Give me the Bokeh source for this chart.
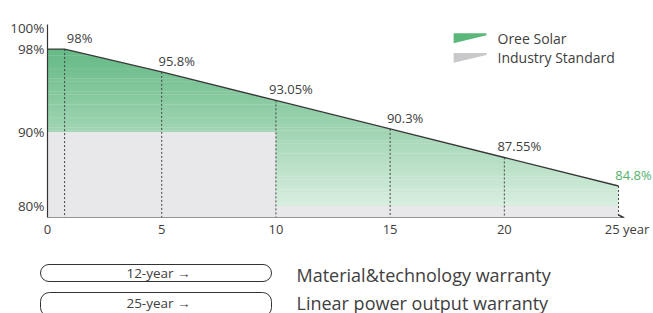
import numpy as np
from bokeh.plotting import figure
from bokeh.models import (Range1d, LabelSet, ColumnDataSource, Arrow,
                          VeeHead, FixedTicker, BoxAnnotation)
from bokeh.core.properties import value
from bokeh.embed import file_html
from bokeh.resources import INLINE

# ---------------- data ----------------
years = [0, 0.75, 5, 10, 15, 20, 25]
oree = [98, 98, 95.8, 93.05, 90.3, 87.55, 84.8]
point_years = [0.75, 5, 10, 15, 20, 25]
point_vals = [98, 95.8, 93.05, 90.3, 87.55, 84.8]
point_text = ["98%", "95.8%", "93.05%", "90.3%", "87.55%", "84.8%"]
industry_left = [0, 10]
industry_right = [10, 25]
industry = [90, 80]
x_ticks = [0, 5, 10, 15, 20, 25]
x_tick_labels = ["0", "5", "10", "15", "20", "25 year"]
y_ticks = [80, 90, 98, 100]
y_tick_labels = ["80%", "90%", "98%", "100%"]
legend_names = ["Oree Solar", "Industry Standard"]
warranty_terms = ["12-year \u2192", "25-year \u2192"]
warranty_names = ["Material&technology warranty", "Linear power output warranty"]

FONT = "Open Sans"
TXT = "#404040"
GREEN_TXT = "#55b06e"
GRAY = "#e8e8ea"
AX = "#333333"


def disp(v):
    # the original chart compresses the region below the last Oree value
    return v if v >= 84.8 else 84.8 - (84.8 - v) * 0.4


Y0, Y1 = 81.76, 100.37
X1 = 26.53

p = figure(width=653, height=240, x_range=Range1d(0, X1), y_range=Range1d(Y0, Y1),
           output_backend="svg", toolbar_location=None,
           min_border_left=47, min_border_right=0, min_border_top=24, min_border_bottom=20)
p.grid.visible = False
p.outline_line_color = None

# gradient green fill: horizontal stripes, then mask above the line
n = 48
lo, hi = disp(80), 98.0
edges = np.linspace(lo, hi, n + 1)
c_top = np.array([0x64, 0xb9, 0x84])
c_bot = np.array([0xd8, 0xee, 0xdf])
cols = []
for i in range(n):
    t = (i + 0.5) / n
    c = c_bot + (c_top - c_bot) * t
    cols.append("#%02x%02x%02x" % tuple(int(round(v)) for v in c))
tops = np.minimum(edges[1:] + 0.03, hi)
p.quad(left=0, right=25, bottom=edges[:-1], top=tops, fill_color=cols, line_color=None)
mx = years + [25.6, 25.6, 0]
my = oree + [oree[-1], Y1, Y1]
p.patch(x=mx, y=my, fill_color="white", line_color=None)

# industry standard (gray)
p.quad(left=industry_left, right=industry_right, bottom=Y0,
       top=[disp(v) for v in industry], fill_color=GRAY, line_color=None)

# dashed verticals
p.segment(x0=point_years, y0=point_vals, x1=point_years, y1=[Y0] * len(point_years),
          line_color="#444444", line_dash="2 2", line_width=1)

# oree line
p.line(years, oree, line_color="#3a3a3a", line_width=1.4)

# x axis (line drawn as arrow so it stops at 25 years)
nb = "\u00a0" * 5
p.xaxis.ticker = FixedTicker(ticks=x_ticks)
p.xaxis.major_label_overrides = {t: (nb + l if t == 25 else l) for t, l in zip(x_ticks, x_tick_labels)}
p.xaxis.axis_line_color = None
p.xaxis.major_tick_line_color = None
p.xaxis.minor_tick_line_color = None
p.xaxis.major_tick_out = 0
p.xaxis.major_tick_in = 0
p.xaxis.minor_tick_out = 0
p.xaxis.major_label_standoff = 2
p.xaxis.major_label_text_font = FONT
p.xaxis.major_label_text_font_size = "13px"
p.xaxis.major_label_text_color = TXT
p.add_layout(Arrow(end=VeeHead(size=6, line_color=AX, fill_color=AX, line_width=1),
                   x_start=0, y_start=Y0, x_end=25.25, y_end=Y0,
                   line_color=AX, line_width=1.2))

# y axis
yt = [disp(v) for v in y_ticks]
p.yaxis.ticker = FixedTicker(ticks=yt)
p.yaxis.major_label_overrides = {t: l for t, l in zip(yt, y_tick_labels)}
p.yaxis.axis_line_color = AX
p.yaxis.axis_line_width = 1.2
p.yaxis.major_tick_line_color = None
p.yaxis.minor_tick_line_color = None
p.yaxis.major_tick_out = 0
p.yaxis.major_tick_in = 0
p.yaxis.minor_tick_out = 0
p.yaxis.major_label_standoff = 3
p.yaxis.major_label_text_font = FONT
p.yaxis.major_label_text_font_size = "13.5px"
p.yaxis.major_label_text_color = TXT

# value labels
vsrc = ColumnDataSource(dict(x=point_years, y=point_vals, t=point_text,
                             c=[TXT] * (len(point_text) - 1) + [GREEN_TXT]))
p.add_layout(LabelSet(x="x", y="y", text="t", source=vsrc, x_offset=15, y_offset=11,
                      text_align="center", text_baseline="middle", text_font=value(FONT),
                      text_font_size=value("13px"), text_color="c"))

# legend swatches + labels
p.patch(x=[17.78, 19.22, 19.22, 17.78], y=[99.52, 99.52, 99.33, 98.57],
        fill_color="#5cb87a", line_color=None)
p.patch(x=[17.78, 19.22, 19.22, 17.78], y=[97.62, 97.62, 97.43, 96.67],
        fill_color="#c9c9cb", line_color=None)
p.text(x=[19.7, 19.7], y=[99.05, 97.15], text=legend_names, text_align="left",
       text_baseline="middle", text_font=value(FONT), text_font_size="14px", text_color=TXT)

# ---------------- bottom warranty strip (separate root) ----------------
q = figure(width=653, height=73, x_range=Range1d(0, 653), y_range=Range1d(73, 0),
           output_backend="svg", toolbar_location=None, x_axis_type=None, y_axis_type=None,
           min_border=0)
q.grid.visible = False
q.outline_line_color = None

for top, h in ((24, 17), (52, 24)):
    q.add_layout(BoxAnnotation(left=40, right=271, top=top, bottom=top + h,
                               fill_color="white", fill_alpha=1, line_color=AX,
                               line_width=1, line_alpha=1, border_radius=9, level="underlay"))

q.text(x=[158, 158], y=[32.5, 62], text=warranty_terms, text_align="center",
       text_baseline="middle", text_font=value(FONT), text_font_size="13.5px", text_color=TXT)
q.text(x=[296, 296], y=[34, 62], text=warranty_names, text_align="left",
       text_baseline="middle", text_font=value(FONT), text_font_size="18px", text_color=TXT)

open("out.html", "w").write(file_html([p, q], INLINE))
